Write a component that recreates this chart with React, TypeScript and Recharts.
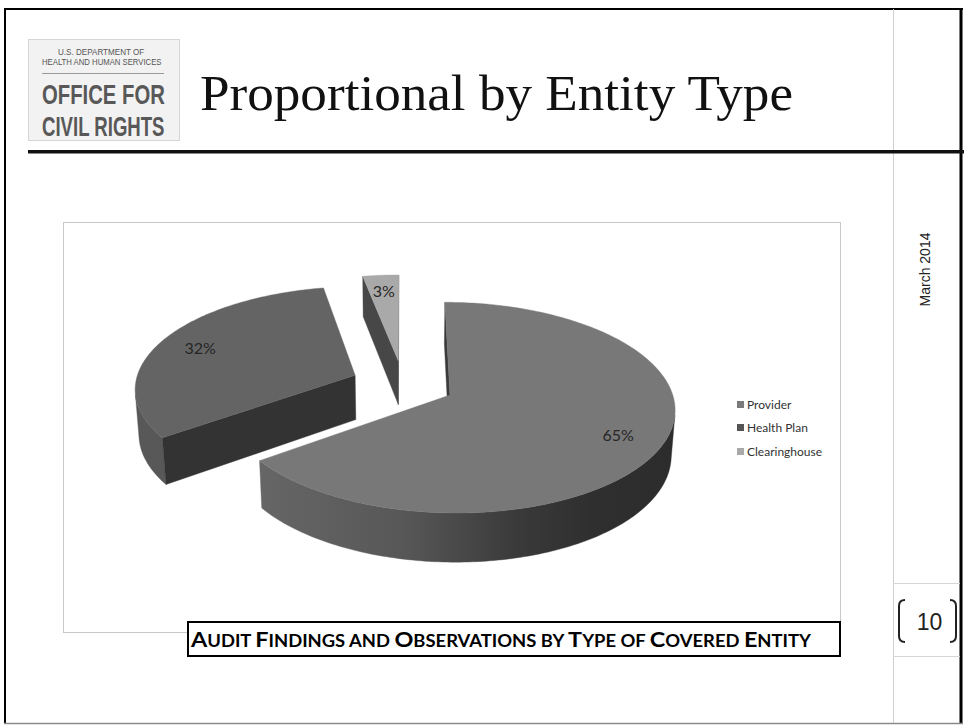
import React from 'react';
import { PieChart, Pie, Legend } from 'recharts';

// ---------- data ----------
const CATEGORIES = ['Provider', 'Health Plan', 'Clearinghouse'];
const SHARES = [65, 32, 3];
const TOP_COLORS = ['#787878', '#646464', '#a9a9a9'];
const FACE_COLORS = ['#3a3a3a', '#333333', '#474747'];
const WALL_COLORS = ['#5a5a5a', '#585858', '#4a4a4a'];
const LEGEND_COLORS = ['#7a7a7a', '#555555', '#a9a9a9'];
const TITLE = 'Proportional by Entity Type';
const CAPTION = 'Audit Findings and Observations by Type of Covered Entity';
const DATE_TEXT = 'March 2014';
const PAGE_NUMBER = '10';
const LOGO_LINES = ['U.S. DEPARTMENT OF', 'HEALTH AND HUMAN SERVICES', 'OFFICE FOR', 'CIVIL RIGHTS'];

const data = CATEGORIES.map((name, i) => ({ name, value: SHARES[i] }));

// ---------- 3D projection ----------
const RAD = Math.PI / 180;
const SIN_T = 0.46;
const COS_T = Math.sqrt(1 - SIN_T * SIN_T);
const VIEW = 1650;
const DEPTH = 51;
const EXPLODE = 52;
const LABEL_F = 0.8;

function proj(cx: number, cy: number, X: number, Y: number, Z: number): [number, number] {
  const d = Y * COS_T - Z * SIN_T;
  const s = VIEW / (VIEW + d);
  return [cx + X * s, cy - (Y * SIN_T + Z * COS_T) * s];
}
const pt = (p: [number, number]) => `${p[0].toFixed(2)},${p[1].toFixed(2)}`;

function renderSlice(props: any) {
  const { cx, cy, outerRadius: R, startAngle, endAngle, midAngle, index, percent } = props;
  const hi = Math.max(startAngle, endAngle);
  const lo = Math.min(startAngle, endAngle);
  const ox = EXPLODE * Math.cos(midAngle * RAD);
  const oy = EXPLODE * Math.sin(midAngle * RAD);
  const P = (a: number, z: number, r: number = R) =>
    proj(cx, cy, ox + r * Math.cos(a * RAD), oy + r * Math.sin(a * RAD), z);
  const n = Math.max(2, Math.ceil((hi - lo) / 1));
  const angles: number[] = [];
  for (let i = 0; i <= n; i++) angles.push(hi - ((hi - lo) * i) / n);
  const camY = -VIEW * COS_T;

  const apexTop = proj(cx, cy, ox, oy, 0);
  const apexBot = proj(cx, cy, ox, oy, -DEPTH);

  // outer wall: visible runs
  const wallVis = (a: number) => {
    const c = Math.cos(a * RAD), s = Math.sin(a * RAD);
    const px = ox + R * c, py = oy + R * s;
    return -px * c + (camY - py) * s > 0;
  };
  const runs: number[][] = [];
  let cur: number[] = [];
  angles.forEach((a) => {
    if (wallVis(a)) cur.push(a);
    else {
      if (cur.length > 1) runs.push(cur);
      cur = [];
    }
  });
  if (cur.length > 1) runs.push(cur);
  const wallPaths = runs.map((run) => {
    const topPts = run.map((a) => P(a, 0));
    const botPts = run.map((a) => P(a, -DEPTH)).reverse();
    return 'M' + [...topPts, ...botPts].map(pt).join(' L') + ' Z';
  });

  // radial faces
  const faceVis = (a: number, atHi: boolean) => {
    const c = Math.cos(a * RAD), s = Math.sin(a * RAD);
    const nx = atHi ? -s : s;
    const ny = atHi ? c : -c;
    const mx = ox + (R / 2) * c, my = oy + (R / 2) * s;
    return nx * -mx + ny * (camY - my) > 0;
  };
  const facePath = (a: number) =>
    'M' + [apexTop, P(a, 0), P(a, -DEPTH), apexBot].map(pt).join(' L') + ' Z';
  const faces: string[] = [];
  if (faceVis(hi, true)) faces.push(facePath(hi));
  if (faceVis(lo, false)) faces.push(facePath(lo));

  const topPath = 'M' + [apexTop, ...angles.map((a) => P(a, 0))].map(pt).join(' L') + ' Z';

  const lp = proj(
    cx,
    cy,
    ox + LABEL_F * R * Math.cos(midAngle * RAD),
    oy + LABEL_F * R * Math.sin(midAngle * RAD),
    0
  );
  const gradId = `wallGrad${index}`;
  const wallFill = index === 0 ? `url(#${gradId})` : WALL_COLORS[index];

  return (
    <g key={`slice-${index}`}>
      <defs>
        <linearGradient id={gradId} x1="0" y1="0" x2="1" y2="0">
          <stop offset="0" stopColor="#666666" />
          <stop offset="0.35" stopColor="#575757" />
          <stop offset="0.62" stopColor="#3a3a3a" />
          <stop offset="0.8" stopColor="#2f2f2f" />
          <stop offset="1" stopColor="#2c2c2c" />
        </linearGradient>
      </defs>
      {wallPaths.map((d, i) => (
        <path key={`w${i}`} d={d} fill={wallFill} stroke={wallFill} strokeWidth={0.4} />
      ))}
      {faces.map((d, i) => (
        <path key={`f${i}`} d={d} fill={FACE_COLORS[index]} stroke={FACE_COLORS[index]} strokeWidth={0.4} />
      ))}
      <path d={topPath} fill={TOP_COLORS[index]} stroke={TOP_COLORS[index]} strokeWidth={0.4} />
      <text
        x={lp[0]}
        y={lp[1]}
        textAnchor="middle"
        dominantBaseline="central"
        fontFamily="Lato, 'Open Sans', sans-serif"
        fontSize={16}
        fill="#262626"
      >
        {`${Math.round(percent * 100)}%`}
      </text>
    </g>
  );
}

function LegendBox() {
  return (
    <div style={{ position: 'relative', width: 120, height: 70 }}>
      {CATEGORIES.map((name, i) => (
        <div
          key={name}
          style={{
            position: 'absolute',
            left: 0,
            top: 2 + i * 23.5,
            height: 16,
            display: 'flex',
            alignItems: 'center',
            whiteSpace: 'nowrap',
          }}
        >
          <span
            style={{
              display: 'inline-block',
              width: 7,
              height: 7,
              background: LEGEND_COLORS[i],
              marginRight: 3,
            }}
          />
          <span style={{ fontFamily: "Lato, 'Open Sans', sans-serif", fontSize: 12, color: '#333' }}>{name}</span>
        </div>
      ))}
    </div>
  );
}

function captionSpans(text: string) {
  const words = text.split(' ');
  const out: { t: string; big: boolean }[] = [];
  words.forEach((w, wi) => {
    const sep = wi < words.length - 1 ? ' ' : '';
    const first = w[0];
    if (first === first.toUpperCase()) {
      out.push({ t: first, big: true });
      out.push({ t: (w.slice(1) + sep).toUpperCase(), big: false });
    } else {
      out.push({ t: (w + sep).toUpperCase(), big: false });
    }
  });
  return out;
}

const LOGO_FONT = "'Liberation Sans', Arial, sans-serif";

export default function App() {
  const chartLeft = 63;
  const chartTop = 222;
  return (
    <div
      style={{
        position: 'absolute',
        left: 0,
        top: 0,
        width: 964,
        height: 725,
        background: '#ffffff',
        overflow: 'hidden',
      }}
    >
      <svg width={964} height={725} style={{ position: 'absolute', left: 0, top: 0 }}>
        {/* slide frame */}
        <line x1={4} y1={9} x2={963} y2={9} stroke="#000" strokeWidth={2} />
        <line x1={5} y1={8} x2={5} y2={724} stroke="#000" strokeWidth={2} />
        <line x1={961} y1={8} x2={961} y2={724} stroke="#000" strokeWidth={3} />
        <line x1={4} y1={723.5} x2={963} y2={723.5} stroke="#8a8a8a" strokeWidth={1.5} />
        <line x1={893.5} y1={9} x2={893.5} y2={723} stroke="#d0d0d0" strokeWidth={1} />
        <line x1={893} y1={583.5} x2={960} y2={583.5} stroke="#d6d6d6" strokeWidth={1} />
        <line x1={893} y1={656.5} x2={960} y2={656.5} stroke="#d6d6d6" strokeWidth={1} />
        <rect x={28} y={150} width={936} height={3.5} fill="#111" />

        {/* logo */}
        <rect x={28.5} y={39.5} width={151} height={101} fill="#f2f2f2" stroke="#d6d6d6" />
        <g fontFamily={LOGO_FONT} fill="#555">
          <text transform="translate(58 55) scale(0.9 1)" fontSize={9}>{LOGO_LINES[0]}</text>
          <text transform="translate(42 64.5) scale(0.86 1)" fontSize={9}>{LOGO_LINES[1]}</text>
          <line x1={42} y1={73.5} x2={164} y2={73.5} stroke="#9a9a9a" strokeWidth={1} />
          <text transform="translate(42 104) scale(0.725 1)" fontSize={28} fontWeight="bold" fill="#585858">{LOGO_LINES[2]}</text>
          <text transform="translate(42 135.5) scale(0.664 1)" fontSize={28} fontWeight="bold" fill="#585858">{LOGO_LINES[3]}</text>
        </g>

        {/* title */}
        <text
          x={200}
          y={110}
          fontFamily="'Liberation Serif', 'DejaVu Serif', serif"
          fontSize={50}
          fill="#111"
          textLength={593}
          lengthAdjust="spacingAndGlyphs"
        >
          {TITLE}
        </text>

        {/* right column */}
        <text
          x={925}
          y={269.5}
          transform="rotate(-90 925 269.5)"
          textAnchor="middle"
          dominantBaseline="central"
          fontFamily="'Liberation Sans', Arial, sans-serif"
          fontSize={14}
          fill="#222"
        >
          {DATE_TEXT}
        </text>
        <path d="M905,600 Q899,600 899,606 L899,636 Q899,642 905,642" fill="none" stroke="#222" strokeWidth={2} />
        <path d="M950,600 Q956,600 956,606 L956,636 Q956,642 950,642" fill="none" stroke="#222" strokeWidth={2} />
        <text x={929.5} y={630} textAnchor="middle" fontFamily="'Liberation Sans', Arial, sans-serif" fontSize={23} fill="#222">
          {PAGE_NUMBER}
        </text>

        {/* chart area border */}
        <rect x={63.5} y={222.5} width={777} height={410} fill="none" stroke="#c8c8c8" strokeWidth={1} />
      </svg>

      <div style={{ position: 'absolute', left: chartLeft, top: chartTop }}>
        <PieChart width={778} height={411}>
          <Pie
            data={data}
            dataKey="value"
            nameKey="name"
            cx={335}
            cy={157}
            outerRadius={220}
            startAngle={90}
            endAngle={-270}
            fill="none"
            stroke="none"
            isAnimationActive={false}
            labelLine={false}
            label={renderSlice}
          />
          <Legend
            content={() => <LegendBox />}
            wrapperStyle={{ position: 'absolute', left: 674, top: 172, width: 120, height: 70 }}
          />
        </PieChart>
      </div>

      <svg width={964} height={725} style={{ position: 'absolute', left: 0, top: 0, pointerEvents: 'none' }}>
        <rect x={188} y={622} width={652} height={34} fill="#fff" stroke="#000" strokeWidth={2} />
        <text
          x={191}
          y={647}
          fontFamily="Lato, 'Open Sans', sans-serif"
          fontWeight="bold"
          fill="#000"
          textLength={620}
          lengthAdjust="spacingAndGlyphs"
        >
          {captionSpans(CAPTION).map((s, i) => (
            <tspan key={i} fontSize={s.big ? 21 : 16.5}>
              {s.t}
            </tspan>
          ))}
        </text>
      </svg>
    </div>
  );
}
